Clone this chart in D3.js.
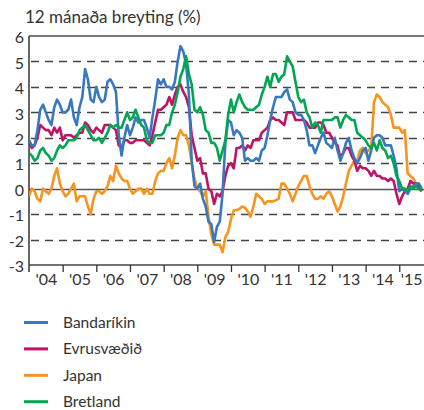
<!DOCTYPE html>
<meta charset="utf-8">
<script src="https://d3js.org/d3.v7.min.js"></script>
<style>
  body { margin: 0; background: #fff; }
  text { font-family: Lato, "Open Sans", sans-serif; fill: #333; }
</style>
<div id="my_chart"></div>
<script>
// monthly 12-month change, Jan 2004 - Sep 2015
var seriesNames = ["Bandaríkin", "Evrusvæðið", "Japan", "Bretland"];
var seriesColors = ["#3878be", "#be1464", "#f7941d", "#00a651"];

var usa = [
  1.9, 1.7, 1.7, 2.3, 3.1, 3.3, 3.0, 2.7, 2.5, 3.2, 3.5, 3.3,
  3.0, 3.0, 3.1, 3.5, 2.8, 2.5, 3.2, 3.6, 4.7, 4.3, 3.5, 3.4,
  4.0, 3.6, 3.4, 3.5, 4.2, 4.3, 4.1, 3.8, 2.1, 1.3, 2.0, 2.5,
  2.1, 2.4, 2.8, 2.6, 2.7, 2.7, 2.4, 2.0, 2.8, 3.5, 4.3, 4.1,
  4.3, 4.0, 4.0, 3.9, 4.2, 5.0, 5.6, 5.4, 4.9, 3.7, 1.1, 0.1,
  0.0, 0.2, -0.4, -0.7, -1.3, -1.4, -2.1, -1.5, -1.3, -0.2, 1.8, 2.7,
  2.6, 2.1, 2.3, 2.2, 2.0, 1.1, 1.2, 1.1, 1.1, 1.2, 1.1, 1.5,
  1.6, 2.1, 2.7, 3.2, 3.6, 3.6, 3.6, 3.8, 3.9, 3.5, 3.4, 3.0,
  2.9, 2.9, 2.7, 2.3, 1.7, 1.7, 1.4, 1.7, 2.0, 2.2, 1.8, 1.7,
  1.6, 2.0, 1.5, 1.1, 1.4, 1.8, 2.0, 1.5, 1.2, 1.0, 1.2, 1.5,
  1.6, 1.1, 1.5, 2.0, 2.1, 2.1, 2.0, 1.7, 1.7, 1.7, 1.3, 0.8,
  -0.1, 0.0, -0.1, -0.2, 0.0, 0.1, 0.2, 0.2, 0.0
];
var euro = [
  1.9, 1.6, 1.7, 2.0, 2.5, 2.4, 2.3, 2.3, 2.1, 2.4, 2.2, 2.4,
  1.9, 2.1, 2.1, 2.1, 2.0, 2.1, 2.2, 2.2, 2.6, 2.5, 2.3, 2.2,
  2.4, 2.3, 2.2, 2.5, 2.5, 2.5, 2.4, 2.3, 1.7, 1.6, 1.9, 1.9,
  1.8, 1.8, 1.9, 1.9, 1.9, 1.9, 1.8, 1.7, 2.1, 2.6, 3.1, 3.1,
  3.2, 3.3, 3.6, 3.3, 3.7, 4.0, 4.1, 3.8, 3.6, 3.2, 2.1, 1.6,
  1.1, 1.2, 0.6, 0.6, 0.0, -0.1, -0.6, -0.2, -0.3, -0.1, 0.5, 0.9,
  1.0, 0.8, 1.6, 1.6, 1.7, 1.5, 1.7, 1.6, 1.9, 1.9, 1.9, 2.2,
  2.3, 2.4, 2.7, 2.8, 2.7, 2.7, 2.6, 2.5, 3.0, 3.0, 3.0, 2.7,
  2.7, 2.7, 2.7, 2.6, 2.4, 2.4, 2.4, 2.6, 2.6, 2.5, 2.2, 2.2,
  2.0, 1.8, 1.7, 1.2, 1.4, 1.6, 1.6, 1.3, 1.1, 0.7, 0.9, 0.8,
  0.8, 0.7, 0.5, 0.7, 0.5, 0.5, 0.4, 0.4, 0.3, 0.4, 0.3, -0.2,
  -0.6, -0.3, -0.1, 0.0, 0.3, 0.2, 0.2, 0.1, -0.1
];
var japan = [
  -0.3, 0.0, -0.1, -0.4, -0.5, 0.0, -0.1, -0.2, 0.0, 0.5, 0.8, 0.2,
  -0.1, -0.3, -0.2, 0.0, 0.2, -0.5, -0.3, -0.3, -0.3, -0.7, -1.0, -0.4,
  -0.1, -0.1, -0.2, -0.1, 0.1, 0.5, 0.3, 0.9, 0.6, 0.4, 0.3, 0.3,
  0.0, -0.2, -0.1, 0.0, 0.0, -0.2, 0.0, -0.2, -0.2, 0.3, 0.6, 0.7,
  0.7, 1.0, 1.2, 0.8, 1.3, 2.0, 2.3, 2.1, 2.1, 1.7, 1.0, 0.4,
  0.0, -0.1, -0.3, -0.1, -1.1, -1.8, -2.2, -2.2, -2.2, -2.5, -1.9, -1.7,
  -1.2, -0.85, -0.85, -0.8, -0.7, -0.75, -0.9, -1.1, -0.7, -0.2, -0.3, -0.4,
  -0.6, -0.5, -0.5, -0.5, -0.45, -0.4, 0.2, 0.2, 0.0, -0.2, -0.5, -0.2,
  0.1, 0.3, 0.5, 0.5, 0.1, -0.2, -0.4, -0.4, -0.3, -0.4, -0.2, -0.1,
  -0.3, -0.6, -0.9, -0.7, -0.3, 0.2, 0.7, 0.9, 1.1, 1.1, 1.5, 1.6,
  1.4, 1.5, 1.6, 3.4, 3.7, 3.6, 3.4, 3.3, 3.2, 2.9, 2.4, 2.4,
  2.4, 2.2, 2.3, 0.6, 0.5, 0.4, 0.2, 0.2, 0.0
];
var uk = [
  1.4, 1.3, 1.1, 1.2, 1.5, 1.6, 1.4, 1.3, 1.1, 1.2, 1.5, 1.7,
  1.6, 1.7, 1.9, 1.9, 1.9, 2.0, 2.3, 2.4, 2.5, 2.3, 2.1, 1.9,
  1.9, 2.0, 1.8, 2.0, 2.2, 2.5, 2.4, 2.5, 2.4, 2.4, 2.7, 3.0,
  2.7, 2.8, 3.1, 2.8, 2.5, 2.4, 1.9, 1.8, 1.8, 2.1, 2.1, 2.1,
  2.2, 2.5, 2.5, 3.0, 3.3, 3.8, 4.4, 4.7, 5.2, 4.5, 4.1, 3.1,
  3.0, 3.2, 2.9, 2.3, 2.2, 1.8, 1.8, 1.6, 1.1, 1.5, 1.9, 2.9,
  3.5, 3.0, 3.4, 3.7, 3.4, 3.2, 3.1, 3.1, 3.1, 3.2, 3.3, 3.7,
  4.0, 4.4, 4.0, 4.5, 4.5, 4.2, 4.4, 4.5, 5.2, 5.0, 4.8, 4.2,
  3.6, 3.4, 3.5, 3.0, 2.8, 2.4, 2.6, 2.5, 2.2, 2.7, 2.7, 2.7,
  2.7, 2.8, 2.8, 2.4, 2.7, 2.9, 2.8, 2.7, 2.7, 2.2, 2.1, 2.0,
  1.9, 1.7, 1.6, 1.8, 1.5, 1.9, 1.6, 1.5, 1.2, 1.3, 1.0, 0.5,
  0.3, 0.0, 0.0, -0.1, 0.1, 0.0, 0.1, 0.0, -0.1
];
var seriesData = [usa, euro, japan, uk];

var yearLabels = ["'04", "'05", "'06", "'07", "'08", "'09", "'10", "'11", "'12", "'13", "'14", "'15"];
var yTicks = [-3, -2, -1, 0, 1, 2, 3, 4, 5, 6];
var dashedTicks = [-2, -1, 1, 2, 3, 4, 5];

var W = 424, H = 410;
var plotLeft = 29, plotTop = 36, plotBottom = 265;
var yearW = 33.66;

var svg = d3.select("#my_chart").append("svg")
    .attr("width", W)
    .attr("height", H);

// month index -> x
var x = d3.scaleLinear()
    .domain([0, 12 * yearLabels.length])
    .range([plotLeft, plotLeft + yearW * yearLabels.length]);
var y = d3.scaleLinear()
    .domain([-3, 6])
    .range([plotBottom, plotTop]);

// title
svg.append("text")
    .attr("x", 25)
    .attr("y", 23)
    .style("font-size", "17px")
    .text("12 mánaða breyting (%)");

// dashed gridlines
svg.append("g").selectAll("line")
    .data(dashedTicks)
    .enter().append("line")
    .attr("x1", plotLeft + 2)
    .attr("x2", W)
    .attr("y1", function(d) { return Math.round(y(d)) + 0.5; })
    .attr("y2", function(d) { return Math.round(y(d)) + 0.5; })
    .attr("stroke", "#444")
    .attr("stroke-width", 1.3)
    .attr("stroke-dasharray", "8,6");

// zero line
svg.append("line")
    .attr("x1", plotLeft).attr("x2", W)
    .attr("y1", Math.round(y(0)) + 0.5).attr("y2", Math.round(y(0)) + 0.5)
    .attr("stroke", "#555")
    .attr("stroke-width", 1.3);

// top border
svg.append("line")
    .attr("x1", plotLeft).attr("x2", W)
    .attr("y1", plotTop).attr("y2", plotTop)
    .attr("stroke", "#777")
    .attr("stroke-width", 2);

// Y axis
var yAxis = svg.append("g")
    .attr("transform", "translate(" + plotLeft + ",0)")
    .call(d3.axisLeft(y).tickValues(yTicks).tickSize(0).tickPadding(5)
        .tickFormat(function(d) { return d < 0 ? "-" + Math.abs(d) : d; }));
yAxis.select(".domain").attr("stroke", "#333").attr("stroke-width", 1.5)
    .attr("d", "M0," + plotTop + "V" + (plotBottom + 7));
yAxis.selectAll("text").style("font-size", "16px").attr("fill", "#333").attr("dy", "0.42em");

// X axis: tick marks at year boundaries
var xTicks = svg.append("g")
    .attr("transform", "translate(0," + plotBottom + ")")
    .call(d3.axisBottom(x).tickValues(d3.range(12, 144, 12)).tickSize(7).tickFormat(""));
xTicks.select(".domain").attr("stroke", "#444").attr("stroke-width", 1.5).attr("d", "M" + plotLeft + ",0H" + W);
xTicks.selectAll(".tick line").attr("stroke", "#333").attr("stroke-width", 1.3);

// X axis: year labels centred in each year
var xLabels = svg.append("g")
    .attr("transform", "translate(0," + plotBottom + ")")
    .call(d3.axisBottom(x).tickValues(d3.range(6, 144, 12)).tickSize(0).tickPadding(9)
        .tickFormat(function(d) { return yearLabels[(d - 6) / 12]; }));
xLabels.select(".domain").remove();
xLabels.selectAll("text").style("font-size", "16px").attr("fill", "#333");
// the last year is cut by the page edge, pull its label back inside
xLabels.selectAll("text").filter(function(d) { return d === 138; })
    .attr("text-anchor", "end")
    .attr("x", W - 2 - x(138));

// lines
var line = d3.line()
    .x(function(d, i) { return x(i); })
    .y(function(d) { return y(d); });

svg.append("defs").append("clipPath").attr("id", "clip")
    .append("rect").attr("x", plotLeft).attr("y", 0).attr("width", W - plotLeft).attr("height", plotBottom);

var order = [2, 1, 0, 3];
svg.append("g").attr("clip-path", "url(#clip)")
    .selectAll("path")
    .data(order)
    .enter().append("path")
    .attr("fill", "none")
    .attr("stroke", function(k) { return seriesColors[k]; })
    .attr("stroke-width", 2.6)
    .attr("stroke-linejoin", "round")
    .attr("d", function(k) { return line(seriesData[k]); });

// legend
var legend = svg.append("g").selectAll("g")
    .data(seriesNames)
    .enter().append("g")
    .attr("transform", function(d, i) { return "translate(0," + (322.5 + i * 26.4) + ")"; });
legend.append("line")
    .attr("x1", 24).attr("x2", 48)
    .attr("stroke", function(d, i) { return seriesColors[i]; })
    .attr("stroke-width", 3);
legend.append("text")
    .attr("x", 63)
    .attr("dy", "0.36em")
    .style("font-size", "15.5px")
    .text(function(d) { return d; });
</script>
